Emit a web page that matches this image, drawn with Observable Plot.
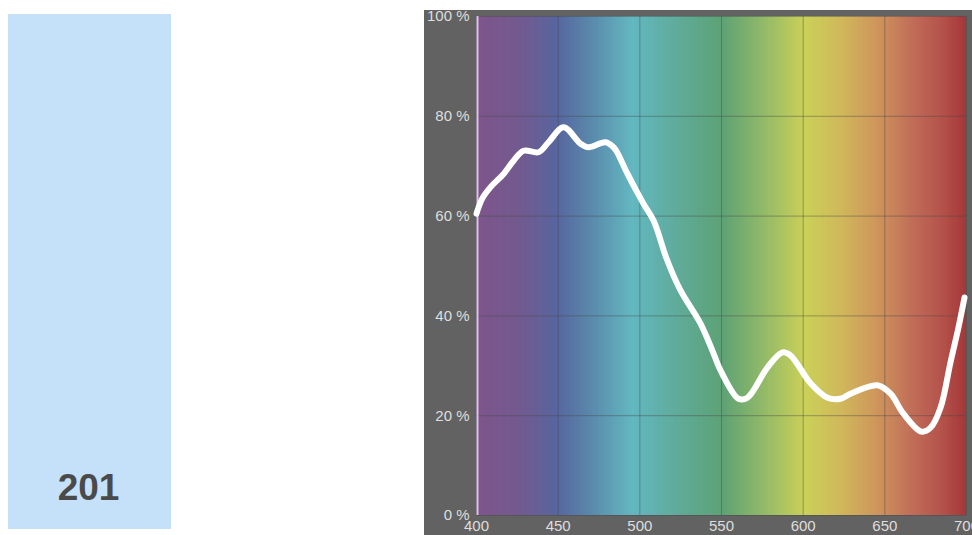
<!DOCTYPE html>
<html>
<head>
<meta charset="utf-8">
<script src="https://cdn.jsdelivr.net/npm/d3@7"></script>
<script src="https://cdn.jsdelivr.net/npm/@observablehq/plot@0.6"></script>
<style>
  html, body { margin: 0; padding: 0; background: #ffffff; width: 972px; height: 535px; overflow: hidden; }
  #swatch { position: absolute; left: 8px; top: 14px; width: 163px; height: 515px; background: #c5e1f9; }
  #swatchLabel { position: absolute; left: 0; width: 161px; top: 453px; text-align: center;
    font-family: "Liberation Sans", Arial, sans-serif; font-weight: bold; font-size: 37px; color: #4a4a4a; }
  #chart { position: absolute; left: 424px; top: 10px; }
</style>
</head>
<body>
<div id="swatch"><div id="swatchLabel"></div></div>
<div id="chart"></div>
<script>
// ---- data ----
const swatchCode = "201";
const wavelengths = [400, 403.5, 408.6, 416.7, 422.7, 428.8, 438, 444.1, 453.3, 463.7, 468.6, 479, 483.9, 486.1, 492.4, 502.2, 508.4, 516.8, 524.9, 537.1, 545.1, 549.4, 560.4, 565.9, 578.2, 587.3, 592.2, 604.5, 614.9, 622.9, 629, 645.5, 653.5, 661.4, 672.4, 678, 684.1, 690.2, 695.1, 698.8];
const reflectance = [60.5, 63.5, 65.8, 68.5, 71.1, 73.1, 72.8, 74.8, 77.8, 74.5, 73.8, 74.8, 73.8, 72.8, 68.5, 62.5, 59.1, 51.1, 45.1, 38.5, 32.5, 29.1, 23.4, 23.6, 29.7, 32.7, 32.1, 26.5, 23.6, 23.4, 24.4, 26.1, 24.4, 20.4, 16.8, 17.6, 21.6, 30.7, 37.7, 43.7];
const xTicks = [400, 450, 500, 550, 600, 650, 700];
const yTicks = [0, 20, 40, 60, 80, 100];
// spectrum background colour stops
const spectrumStops = [400, 427, 449.6, 469.8, 495.5, 524.9, 550.6, 573.9, 601.4, 622.8, 644.3, 665.7, 687.1, 700];
const spectrumColors = ["#7e568c", "#735a8f", "#5866a0", "#5b88ab", "#63b8c1", "#60ab99", "#5ea276", "#8eb86a", "#cbd158", "#d0b95c", "#cf985c", "#c2705a", "#b3504a", "#a43838"];

document.getElementById("swatchLabel").textContent = swatchCode;

const curve = wavelengths.map((w, i) => ({w, r: reflectance[i]}));
const step = 0.5;
const cells = d3.range(400, 700, step).map(w => ({w1: w, w2: Math.min(700, w + step * 2), c: w + step / 2}));

const chart = Plot.plot({
  width: 548,
  height: 525,
  marginLeft: 52,
  marginRight: 6,
  marginTop: 6,
  marginBottom: 20,
  style: {background: "#626262", color: "#dedede", fontFamily: "'Liberation Sans', Arial, sans-serif", fontSize: "15px", overflow: "visible"},
  x: {domain: [400, 700], ticks: xTicks, tickSize: 0, tickPadding: 5, label: null},
  y: {domain: [0, 100], ticks: yTicks, tickFormat: d => d + " %", tickSize: 0, tickPadding: 7, label: null},
  color: {type: "linear", domain: spectrumStops, range: spectrumColors},
  marks: [
    Plot.rectY(cells, {x1: "w1", x2: "w2", y1: 0, y2: 100, fill: "c", inset: 0}),
    Plot.gridX(xTicks, {stroke: "#4a4a4a", strokeOpacity: 0.45, strokeWidth: 1}),
    Plot.gridY(yTicks, {stroke: "#4a4a4a", strokeOpacity: 0.45, strokeWidth: 1}),
    Plot.ruleX([400], {stroke: "#dcc4e4", strokeWidth: 2, dx: 1}),
    Plot.line(curve, {x: "w", y: "r", stroke: "white", strokeWidth: 6, curve: "catmull-rom", strokeLinejoin: "round"}),
    Plot.axisX({ticks: xTicks, tickSize: 0, tickPadding: 5, fill: "#dedede"}),
    Plot.axisY({ticks: yTicks, tickSize: 0, tickPadding: 7, tickFormat: d => d + " %", fill: "#dedede"})
  ]
});
document.getElementById("chart").appendChild(chart);
</script>
</body>
</html>
